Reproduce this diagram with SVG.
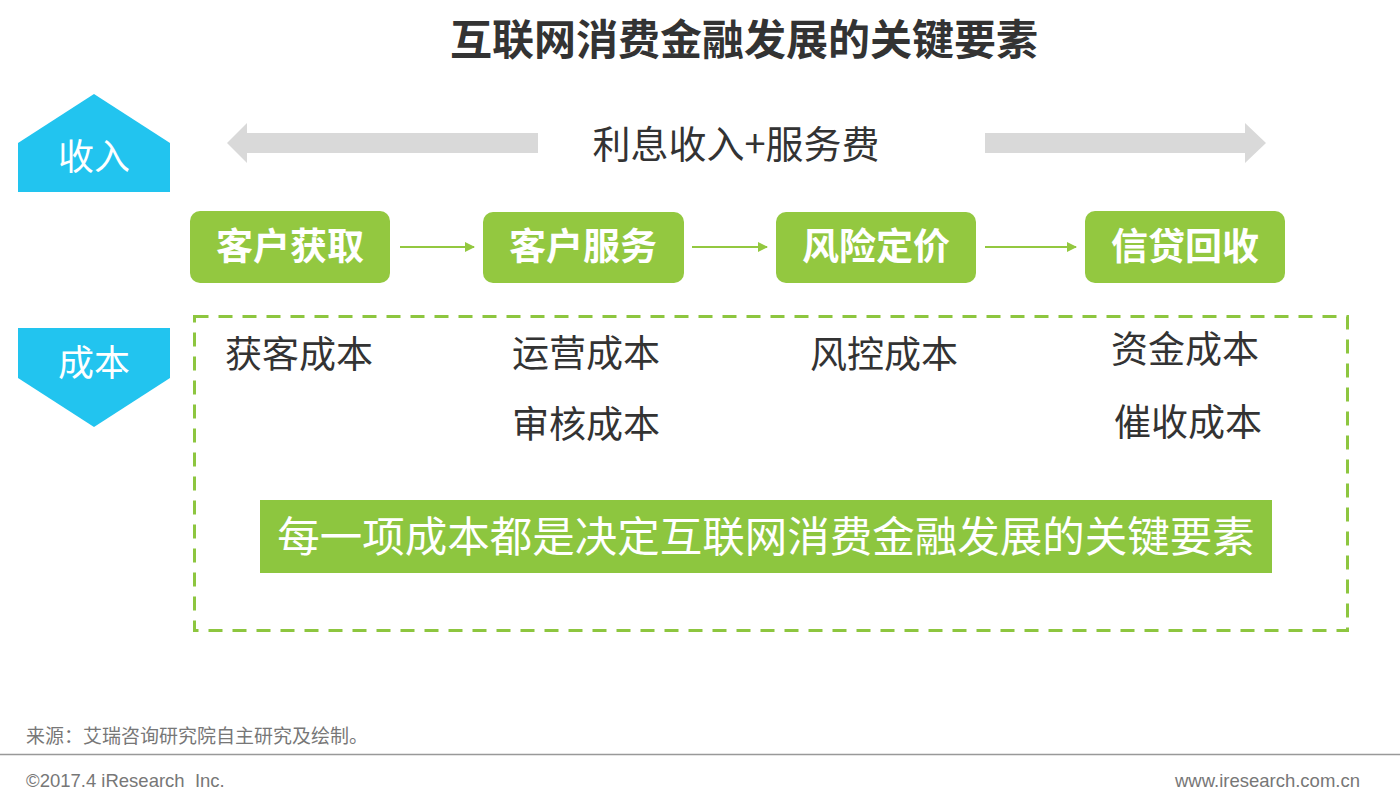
<svg xmlns="http://www.w3.org/2000/svg" width="1400" height="795" viewBox="0 0 1400 795">
<style>
.cjk{font-family:"Noto Sans CJK SC","Noto Sans",sans-serif}
.box{fill:#93C840}
.boxt{fill:#fff;font-size:37px;font-weight:bold;text-anchor:middle}
.cost{fill:#333;font-size:37px;text-anchor:middle}
.tag{fill:#22C4EF}
.tagt{fill:#fff;font-size:36px;text-anchor:middle}
.gray{fill:#D9D9D9}
.conn{stroke:#93C840;stroke-width:2;fill:none}
</style>
<defs>
<marker id="ah" markerWidth="10" markerHeight="10" refX="9" refY="5" orient="auto" markerUnits="userSpaceOnUse">
<path d="M0,0 L10,5 L0,10 Z" fill="#93C840"/>
</marker>
</defs>
<rect width="1400" height="795" fill="#fff"/>
<text class="cjk" x="744" y="55" font-size="42" font-weight="bold" fill="#333" text-anchor="middle">互联网消费金融发展的关键要素</text>

<g id="tag-income">
<polygon class="tag" points="18,143 94,94 170,143 170,192 18,192"/>
<text class="cjk tagt" x="94" y="170">收入</text>
</g>
<g id="tag-cost">
<polygon class="tag" points="18,328 170,328 170,378 94,427 18,378"/>
<text class="cjk tagt" x="94" y="376">成本</text>
</g>

<g id="revenue">
<polygon class="gray" points="227,143 247,123 247,133 538,133 538,153 247,153 247,163"/>
<polygon class="gray" points="1266,143 1245,123 1245,133 985,133 985,153 1245,153 1245,163"/>
<text class="cjk" x="736" y="158" font-size="38" fill="#333" text-anchor="middle">利息收入+服务费</text>
</g>

<g id="n1"><rect class="box" x="190" y="211" width="200" height="72" rx="10"/><text class="cjk boxt" x="290" y="260">客户获取</text></g>
<g id="n2"><rect class="box" x="483" y="212" width="201" height="71" rx="10"/><text class="cjk boxt" x="583" y="260">客户服务</text></g>
<g id="n3"><rect class="box" x="776" y="212" width="200" height="71" rx="10"/><text class="cjk boxt" x="876" y="260">风险定价</text></g>
<g id="n4"><rect class="box" x="1085" y="211" width="200" height="72" rx="10"/><text class="cjk boxt" x="1185" y="260">信贷回收</text></g>

<g id="connectors">
<line class="conn" x1="400" y1="247" x2="474" y2="247" marker-end="url(#ah)"/>
<line class="conn" x1="692" y1="247" x2="767" y2="247" marker-end="url(#ah)"/>
<line class="conn" x1="985" y1="247" x2="1076" y2="247" marker-end="url(#ah)"/>
</g>

<g id="costs">
<rect x="194.5" y="316.5" width="1153" height="314" fill="none" stroke="#8DC63F" stroke-width="3" stroke-dasharray="14 10"/>
<text class="cjk cost" x="299" y="368">获客成本</text>
<text class="cjk cost" x="586" y="367">运营成本</text>
<text class="cjk cost" x="586" y="438">审核成本</text>
<text class="cjk cost" x="884" y="368">风控成本</text>
<text class="cjk cost" x="1185" y="363">资金成本</text>
<text class="cjk cost" x="1188" y="436">催收成本</text>
</g>

<g id="banner">
<rect x="260" y="500" width="1012" height="73" fill="#8DC63F"/>
<text class="cjk" x="766" y="552" font-size="42.5" fill="#fff" text-anchor="middle">每一项成本都是决定互联网消费金融发展的关键要素</text>
</g>

<g id="footer">
<text class="cjk" x="26" y="743" font-size="19" fill="#777">来源：艾瑞咨询研究院自主研究及绘制。</text>
<line x1="0" y1="754.5" x2="1400" y2="754.5" stroke="#999" stroke-width="1.5"/>
<text x="26" y="787" font-family="Liberation Sans,Arial,sans-serif" font-size="18.5" fill="#777" xml:space="preserve">©2017.4 iResearch  Inc.</text>
<text x="1360" y="787" font-family="Liberation Sans,Arial,sans-serif" font-size="18.5" fill="#777" text-anchor="end">www.iresearch.com.cn</text>
</g>
</svg>
